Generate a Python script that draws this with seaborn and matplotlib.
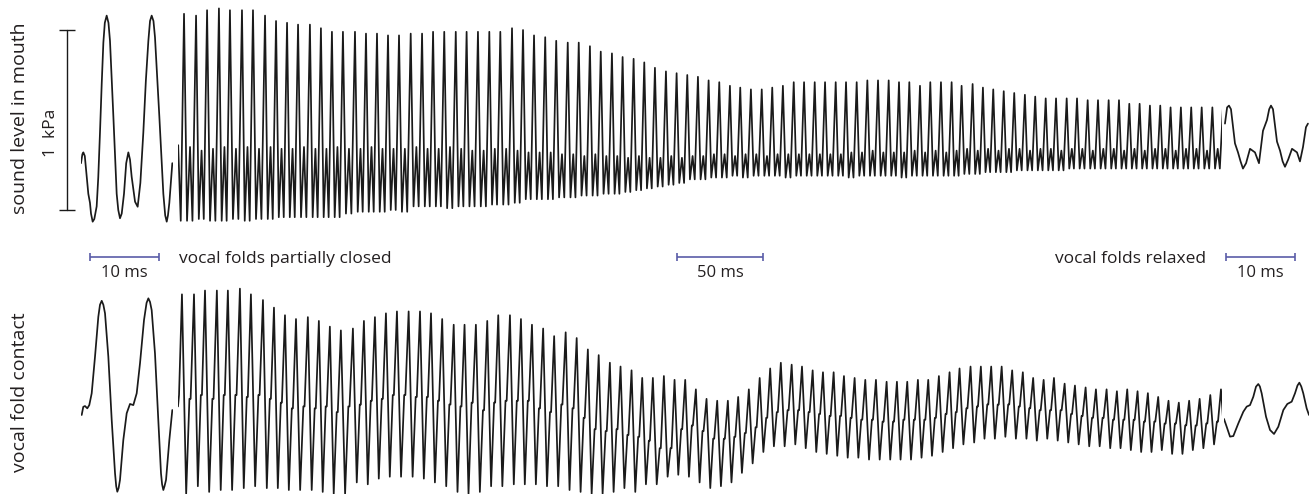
import numpy as np
import pandas as pd
import matplotlib
matplotlib.use("Agg")
import matplotlib.pyplot as plt
import seaborn as sns

# ---------------- data ----------------
# glottal cycle peak times in the long (50 ms-scale) stretch, ms
cycle_ms = [3.5, 10.5, 16.9, 23.8, 30.2, 37.2, 43.6, 50.6, 57.0, 63.4,
            69.8, 76.7, 83.1, 89.5, 95.9, 102.9, 109.3, 115.7, 122.1, 128.5,
            135.3, 141.9, 148.3, 154.8, 161.5, 167.8, 174.4, 181.0, 187.4, 194.2,
            200.6, 207.0, 213.5, 219.9, 226.6, 233.0, 239.5, 245.8, 252.3, 258.5,
            264.9, 271.1, 277.3, 283.7, 289.9, 296.1, 302.3, 308.5, 314.7, 320.9,
            326.9, 333.1, 339.4, 345.5, 351.7, 358.0, 364.0, 370.2, 376.2, 382.4,
            388.4, 394.6, 400.8, 407.0, 413.2, 419.2, 425.2, 431.4, 437.4, 443.6,
            449.8, 455.6, 462.0, 468.0, 474.0, 480.1, 486.2, 492.4, 498.4, 504.5,
            510.5, 516.7, 522.7, 528.9, 534.9, 541.1, 547.1, 553.1, 559.1, 565.1,
            571.1, 577.1, 583.1, 589.1, 595.2, 601.4, 607.6]

# sound level in mouth (kPa): main peak, trough, secondary peak per cycle
mouth_peak_kpa = [1.09, 1.08, 1.11, 1.12, 1.11, 1.11, 1.11, 1.08, 1.05, 1.04,
                  1.03, 1.03, 1.01, 0.99, 0.99, 0.99, 0.98, 0.98, 0.97, 0.97,
                  0.98, 0.98, 0.99, 0.99, 0.99, 0.99, 0.99, 0.99, 0.99, 1.01,
                  1.00, 0.97, 0.96, 0.94, 0.93, 0.93, 0.91, 0.88, 0.87, 0.85,
                  0.84, 0.82, 0.79, 0.77, 0.76, 0.75, 0.74, 0.72, 0.71, 0.69,
                  0.68, 0.67, 0.67, 0.68, 0.69, 0.71, 0.71, 0.71, 0.71, 0.71,
                  0.71, 0.71, 0.72, 0.72, 0.72, 0.71, 0.71, 0.69, 0.71, 0.71,
                  0.71, 0.69, 0.70, 0.68, 0.67, 0.66, 0.65, 0.64, 0.63, 0.62,
                  0.62, 0.62, 0.62, 0.61, 0.61, 0.61, 0.61, 0.59, 0.59, 0.58,
                  0.58, 0.57, 0.57, 0.57, 0.57, 0.57, 0.58]
mouth_trough_kpa = [-0.06, -0.05, -0.06, -0.06, -0.05, -0.06, -0.05, -0.05,
                    -0.04, -0.04, -0.04, -0.04, -0.04, -0.04,
                    -0.02, -0.01, -0.01, -0.01, 0.00, -0.01,
                    0.02, 0.02, 0.02, 0.01, 0.02, 0.02, 0.02, 0.03,
                    0.03, 0.04, 0.06, 0.06, 0.06, 0.07, 0.07, 0.08, 0.08, 0.09,
                    0.09, 0.10, 0.11, 0.12, 0.13, 0.14, 0.15,
                    0.17, 0.17, 0.18, 0.18, 0.19, 0.18, 0.19, 0.19, 0.19, 0.18,
                    0.19, 0.19, 0.19, 0.19, 0.19, 0.18, 0.19, 0.19, 0.19, 0.19,
                    0.18, 0.19, 0.19, 0.19, 0.19, 0.19,
                    0.20, 0.20, 0.21, 0.21, 0.21, 0.22, 0.22, 0.22, 0.22, 0.22,
                    0.23, 0.23, 0.23, 0.23, 0.23, 0.23, 0.23, 0.23, 0.23, 0.23,
                    0.23, 0.23, 0.23, 0.23, 0.23, 0.23]
mouth_second_kpa = [0.35, 0.33, 0.34, 0.35, 0.34, 0.35, 0.34, 0.35, 0.34, 0.34,
                    0.35, 0.34, 0.34, 0.35, 0.34, 0.34, 0.35, 0.34, 0.34, 0.34,
                    0.35, 0.34, 0.34, 0.35, 0.34, 0.33, 0.33, 0.34, 0.34, 0.33,
                    0.32, 0.32, 0.32, 0.31, 0.31, 0.30, 0.31, 0.30, 0.30, 0.29,
                    0.30, 0.29, 0.29, 0.30, 0.29,
                    0.30, 0.30, 0.31, 0.31, 0.30, 0.31, 0.31, 0.30, 0.31, 0.31,
                    0.31, 0.31, 0.31, 0.31, 0.31, 0.32, 0.32, 0.33, 0.32, 0.32,
                    0.32, 0.33, 0.32, 0.33, 0.32, 0.33,
                    0.34, 0.33, 0.34, 0.33, 0.34, 0.34, 0.33, 0.34, 0.34, 0.33,
                    0.34, 0.34, 0.33, 0.34, 0.34, 0.33, 0.34, 0.33, 0.34, 0.34,
                    0.33, 0.34, 0.34, 0.33, 0.34, 0.34]
mouth_lead_ms = [0.0, 0.1, 1.6]
mouth_lead_kpa = [0.26, 0.36, -0.06]

# vocal fold contact (relative units): peak, trough, shoulder per cycle
egg_lead_offset_ms = 1.2
egg_peak = [1.03, 1.03, 1.05, 1.05, 1.05, 1.06, 1.03, 1.00, 0.96, 0.92,
            0.90, 0.91, 0.89, 0.86, 0.84, 0.85, 0.89, 0.91, 0.93, 0.94,
            0.94, 0.94, 0.93, 0.90, 0.87, 0.87, 0.87, 0.89, 0.92, 0.92,
            0.90, 0.87, 0.85, 0.81, 0.83, 0.80, 0.74, 0.71, 0.67, 0.65,
            0.63, 0.59, 0.59, 0.60, 0.58, 0.58, 0.53,
            0.48, 0.47, 0.47, 0.49, 0.53, 0.59, 0.64, 0.67, 0.66, 0.65,
            0.63, 0.62, 0.62, 0.60, 0.59, 0.58, 0.58, 0.57, 0.57, 0.57,
            0.58, 0.58, 0.60, 0.62, 0.64, 0.65, 0.65, 0.65, 0.65, 0.63,
            0.62, 0.59, 0.58, 0.59, 0.56, 0.55, 0.54, 0.53, 0.53, 0.52,
            0.53, 0.52, 0.51, 0.49, 0.47, 0.46, 0.47, 0.48, 0.50, 0.53]
egg_trough = [-0.02, 0.02, -0.01, 0.00, 0.00, 0.01, 0.02, 0.01, 0.01, 0.00,
              0.00, 0.00, -0.01, -0.02, -0.02, 0.04, 0.03, 0.06, 0.07, 0.07,
              0.07, 0.06, 0.04, 0.02, -0.01, -0.02, -0.01, 0.02, 0.02, 0.03,
              0.03, 0.03, 0.02, 0.02, 0.00, -0.01, -0.02, -0.02, -0.01, 0.01,
              -0.01, 0.03, 0.03, 0.07, 0.08, 0.07, 0.04,
              0.01, 0.02, 0.04, 0.09, 0.14, 0.20, 0.23, 0.23, 0.24, 0.22,
              0.20, 0.19, 0.18, 0.17, 0.17, 0.16, 0.16, 0.16, 0.16, 0.16,
              0.17, 0.18, 0.20, 0.22, 0.24, 0.25, 0.27, 0.27, 0.28, 0.27,
              0.27, 0.26, 0.27, 0.26, 0.25, 0.24, 0.23, 0.23, 0.22, 0.22,
              0.21, 0.20, 0.20, 0.21, 0.19, 0.19, 0.21, 0.22, 0.24, 0.25]
egg_shoulder = [0.48, 0.50, 0.48, 0.50, 0.50, 0.49, 0.50, 0.48, 0.46, 0.43,
                0.44, 0.43, 0.44, 0.41, 0.44, 0.45, 0.47, 0.48, 0.50, 0.50,
                0.49, 0.49, 0.47, 0.45, 0.44, 0.46, 0.42, 0.46, 0.47, 0.47,
                0.47, 0.43, 0.41, 0.45, 0.43, 0.38, 0.32, 0.31, 0.32, 0.29,
                0.28, 0.26, 0.22, 0.22, 0.32, 0.34, 0.31,
                0.27, 0.27, 0.28, 0.30, 0.33,
                0.38, 0.41, 0.42, 0.42, 0.41, 0.40, 0.39, 0.39, 0.38,
                0.37, 0.37, 0.36, 0.36, 0.37, 0.37, 0.37, 0.38, 0.40, 0.41,
                0.43, 0.44, 0.45, 0.45, 0.45, 0.44, 0.43, 0.42, 0.42, 0.42,
                0.40, 0.39, 0.38, 0.38, 0.37, 0.37, 0.37, 0.36, 0.36, 0.35,
                0.35, 0.34, 0.34, 0.35, 0.36, 0.37]
egg_lead_ms = [0.0, 0.6]
egg_lead = [0.44, 0.50]

# zoomed 10 ms excerpts (start: partially closed, end: relaxed)
start_mouth_ms = [0.0, 0.2, 0.34, 0.55, 1.06, 1.3, 1.45, 1.69, 1.93, 2.27, 2.5, 2.75,
                  3.0, 3.24, 3.45, 3.72, 3.98, 4.2, 4.69, 5.17, 5.4, 5.65, 5.9,
                  6.23, 6.55, 6.86, 7.1, 7.34, 7.83, 8.21, 8.6, 9.03, 9.4, 9.76,
                  10.0, 10.24, 10.5, 10.72, 11.35, 11.93, 12.2, 12.42, 12.6, 12.8,
                  13.23]
start_mouth_kpa = [0.26, 0.31, 0.32, 0.30, 0.09, 0.04, -0.02, -0.065, -0.05, 0.02, 0.18,
                   0.43, 0.70, 0.93, 1.04, 1.08, 1.04, 0.94, 0.52, 0.09, 0.0, -0.046,
                   -0.02, 0.09, 0.26, 0.32, 0.28, 0.185, 0.046, 0.018, 0.15, 0.43, 0.72,
                   0.94, 1.05, 1.08, 1.05, 0.96, 0.52, 0.09, -0.03, -0.065, -0.03,
                   0.04, 0.26]
end_mouth_ms = [0.14, 0.45, 0.72, 1.01, 1.59, 2.03, 2.4, 2.75, 3.2, 3.77, 4.49, 5.07,
                5.65, 6.23, 6.55, 6.81, 7.1, 7.68, 8.12, 8.5, 8.84, 9.3, 9.86, 10.58,
                11.01, 11.45, 11.88, 12.17]
end_mouth_kpa = [0.48, 0.57, 0.58, 0.56, 0.37, 0.32, 0.27, 0.23, 0.26, 0.34, 0.32, 0.26,
                 0.44, 0.50, 0.56, 0.58, 0.56, 0.38, 0.33, 0.27, 0.24, 0.28, 0.34, 0.32,
                 0.27, 0.35, 0.46, 0.48]
start_egg_ms = [0.1, 0.33, 0.58, 0.91, 1.2, 1.55, 2.03, 2.51, 2.75, 3.0, 3.24, 3.48,
                3.96, 4.45, 4.93, 5.1, 5.26, 5.45, 5.65, 6.13, 6.62, 7.1, 7.58, 8.07,
                8.55, 9.13, 9.5, 9.76, 10.0, 10.24, 10.72, 11.2, 11.59, 11.75, 11.93,
                12.1, 12.32, 12.8, 13.23]
start_egg = [0.395, 0.438, 0.442, 0.43, 0.447, 0.509, 0.702, 0.912, 0.975, 0.996,
             0.975, 0.93, 0.702, 0.368, 0.088, 0.02, -0.009, 0.01, 0.053, 0.263,
             0.404, 0.453, 0.447, 0.509, 0.667, 0.895, 0.985, 1.009, 0.99, 0.947,
             0.719, 0.368, 0.088, 0.03, 0.0, 0.02, 0.053, 0.263, 0.421]
end_egg_ms = [0.0, 0.39, 0.87, 1.35, 2.08, 2.8, 3.29, 3.77, 4.25, 4.64, 4.97, 5.2, 5.46,
              6.09, 6.67, 7.25, 7.87, 8.6, 9.18, 9.81, 10.29, 10.65, 10.92, 11.2, 11.49,
              11.98, 12.32]
end_egg = [0.374, 0.333, 0.281, 0.284, 0.351, 0.412, 0.439, 0.447, 0.491, 0.544, 0.558,
           0.545, 0.509, 0.386, 0.316, 0.295, 0.333, 0.421, 0.453, 0.465, 0.509, 0.55,
           0.565, 0.545, 0.509, 0.43, 0.395]

row_labels = ["sound level in mouth", "vocal fold contact"]
scale_labels = ["10 ms", "50 ms", "10 ms"]
scale_lengths_ms = [10, 50, 10]
notes = ["vocal folds partially closed", "vocal folds relaxed"]
amp_label = "1  kPa"

# ---------------- waveform assembly (cycle template) ----------------
def cycles_to_polyline(times, lead_t, lead_v, levels, phases, shift=0.0):
    ts, vs = list(lead_t), list(lead_v)
    n = len(times)
    for i in range(n):
        t = times[i] - shift
        p = (times[i + 1] - times[i]) if i + 1 < n else (times[i] - times[i - 1])
        for ph, lv in zip(phases, levels):
            ts.append(t + ph * p)
            vs.append(lv[i])
    return ts, vs

mt, mv = cycles_to_polyline(cycle_ms, mouth_lead_ms, mouth_lead_kpa,
                            [mouth_peak_kpa, mouth_trough_kpa, mouth_second_kpa, mouth_trough_kpa],
                            [0.0, 0.25, 0.5, 0.7])
et, ev = cycles_to_polyline(cycle_ms, egg_lead_ms, egg_lead,
                            [egg_peak, egg_trough, egg_shoulder, egg_shoulder],
                            [0.0, 0.35, 0.62, 0.72], shift=egg_lead_offset_ms)

# ---------------- drawing ----------------
sns.set_theme(style="white")
plt.rcParams["font.family"] = ["Open Sans", "DejaVu Sans"]

INK = "#1a1a1a"
TXT = "#231f20"
BLUE = "#5a5ca8"
W, H = 1309, 494
fig = plt.figure(figsize=(W / 100, H / 100), dpi=100)


def add_ax(x0, x1, y0, y1, xlim, ylim):
    ax = fig.add_axes([x0 / W, 1 - y1 / H, (x1 - x0) / W, (y1 - y0) / H])
    ax.set_xlim(*xlim)
    ax.set_ylim(*ylim)
    ax.set_axis_off()
    return ax

top_ylim = (-0.089, 1.139)
bot_ylim = (-0.021, 1.095)
seg_px = [(81, 173), (178, 1222), (1224, 1309)]
seg_xlim = [(0, 13.33), (0, 607.0), (0, 12.32)]

top_axes = [add_ax(a, b, 5, 226, xl, top_ylim) for (a, b), xl in zip(seg_px, seg_xlim)]
bot_axes = [add_ax(a, b, 282, 494, xl, bot_ylim) for (a, b), xl in zip(seg_px, seg_xlim)]

series = [
    (top_axes[0], start_mouth_ms, start_mouth_kpa),
    (top_axes[1], mt, mv),
    (top_axes[2], end_mouth_ms, end_mouth_kpa),
    (bot_axes[0], start_egg_ms, start_egg),
    (bot_axes[1], et, ev),
    (bot_axes[2], end_egg_ms, end_egg),
]
for ax, x, y in series:
    df = pd.DataFrame({"t": x, "v": y})
    sns.lineplot(data=df, x="t", y="v", sort=False, estimator=None, ax=ax,
                 color=INK, lw=1.25)
    ax.set_axis_off()

for ax, xl in zip(top_axes + bot_axes, seg_xlim + seg_xlim):
    ax.set_xlim(*xl)
for ax in top_axes:
    ax.set_ylim(*top_ylim)
for ax in bot_axes:
    ax.set_ylim(*bot_ylim)

# time scale bars (between rows)
bar_y, lab_y = -0.261, -0.352
bar_starts = [1.3, 290.1, 0.3]
for ax, x0, L, lab in zip(top_axes, bar_starts, scale_lengths_ms, scale_labels):
    ax.plot([x0, x0 + L], [bar_y, bar_y], color=BLUE, lw=1.2, marker="|", ms=6,
            mew=1.2, clip_on=False, solid_capstyle="butt")
    ax.text(x0 + L / 2, lab_y, lab, ha="center", va="center", fontsize=12,
            color=TXT, clip_on=False)

top_axes[1].text(0.6, -0.27, notes[0], ha="left", va="center", fontsize=12.5,
                 color=TXT, clip_on=False)
top_axes[1].text(597.7, -0.27, notes[1], ha="right", va="center", fontsize=12.5,
                 color=TXT, clip_on=False)

# amplitude scale bar (1 kPa)
top_axes[0].plot([-2.03, -2.03], [0, 1], color=INK, lw=1.0, marker="_", ms=12,
                 mew=1.0, clip_on=False)
top_axes[0].text(-4.3, 0.43, amp_label, rotation=90, ha="center", va="center",
                 fontsize=12.5, color=TXT, clip_on=False)

top_axes[0].text(-8.84, 0.51, row_labels[0], rotation=90, ha="center", va="center",
                 fontsize=14, color=TXT, clip_on=False)
bot_axes[0].text(-8.84, 0.513, row_labels[1], rotation=90, ha="center", va="center",
                 fontsize=14, color=TXT, clip_on=False)

fig.savefig("out.png", dpi=100, facecolor="white")
